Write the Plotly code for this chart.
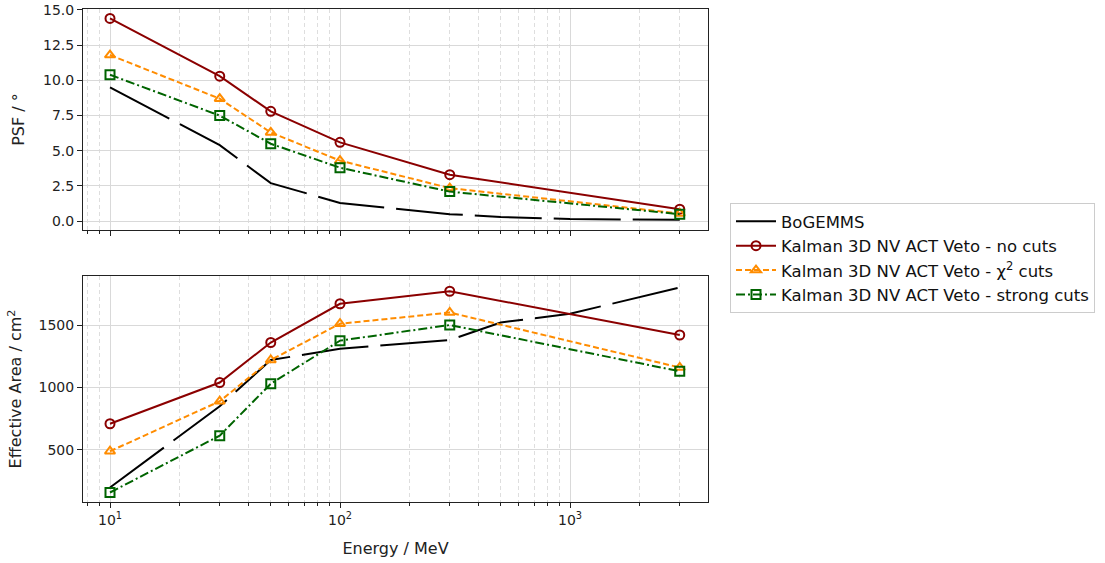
import plotly.graph_objects as go

# ---- data ----
energy_bog = [10, 30, 50, 100, 300, 500, 1000, 3000]
psf_bog = [9.5, 5.4, 2.7, 1.3, 0.5, 0.3, 0.15, 0.1]
aeff_bog = [200, 850, 1220, 1310, 1380, 1520, 1590, 1800]

energy_kal = [10, 30, 50, 100, 300, 3000]
psf_nocut = [14.4, 10.3, 7.8, 5.6, 3.3, 0.85]
psf_chi2 = [11.8, 8.7, 6.3, 4.3, 2.35, 0.55]
psf_strong = [10.4, 7.5, 5.5, 3.8, 2.1, 0.5]
aeff_nocut = [710, 1040, 1360, 1670, 1770, 1420]
aeff_chi2 = [490, 890, 1220, 1510, 1600, 1160]
aeff_strong = [160, 615, 1030, 1375, 1500, 1130]

names = ["BoGEMMS", "Kalman 3D NV ACT Veto - no cuts",
         "Kalman 3D NV ACT Veto - χ<sup>2</sup> cuts",
         "Kalman 3D NV ACT Veto - strong cuts"]
xtick_vals = [10, 100, 1000]
xtick_text = ["10<sup>1</sup>", "10<sup>2</sup>", "10<sup>3</sup>"]
xminor_vals = [8, 9, 20, 30, 40, 50, 60, 70, 80, 90,
               200, 300, 400, 500, 600, 700, 800, 900, 2000, 3000]
psf_ticks = [0, 2.5, 5, 7.5, 10, 12.5, 15]
aeff_ticks = [500, 1000, 1500]

FONT = "DejaVu Sans"
fig = go.Figure()

styles = [
    dict(color="black", dash="67px,12px", symbol=None),
    dict(color="#8B0000", dash="solid", symbol="circle-open"),
    dict(color="#FF8C00", dash="6px,3px", symbol="triangle-up-open"),
    dict(color="#006400", dash="9px,3px,2px,3px", symbol="square-open"),
]

series = [
    (energy_bog, psf_bog, aeff_bog),
    (energy_kal, psf_nocut, aeff_nocut),
    (energy_kal, psf_chi2, aeff_chi2),
    (energy_kal, psf_strong, aeff_strong),
]

for i, ((x, ypsf, yaeff), st, nm) in enumerate(zip(series, styles, names)):
    mode = "lines" if st["symbol"] is None else "lines+markers"
    marker = dict(symbol=st["symbol"], size=9, color=st["color"],
                  line=dict(width=2, color=st["color"])) if st["symbol"] else None
    fig.add_trace(go.Scatter(x=x, y=ypsf, mode=mode, name=nm, legendgroup=nm,
                             line=dict(color=st["color"], width=2, dash=st["dash"]),
                             marker=marker, xaxis="x", yaxis="y"))
    fig.add_trace(go.Scatter(x=x, y=yaeff, mode=mode, name=nm, legendgroup=nm,
                             showlegend=False,
                             line=dict(color=st["color"], width=2, dash=st["dash"]),
                             marker=marker, xaxis="x2", yaxis="y2"))

TICKFONT = dict(family=FONT, size=14, color="#222")
TITLEFONT = dict(family=FONT, size=16, color="#222")

xcommon = dict(type="log", range=[0.8826, 3.6], showline=True, linecolor="#222",
               linewidth=1, mirror=True, ticks="outside", ticklen=5, tickcolor="#222",
               tickmode="array", tickvals=xtick_vals, showgrid=True,
               gridcolor="#d9d9d9", gridwidth=1, zeroline=False,
               minor=dict(tickmode="array", tickvals=xminor_vals, ticks="outside",
                          ticklen=3, tickcolor="#222", showgrid=True,
                          gridcolor="#dedede", griddash="4px,3px", gridwidth=1),
               tickfont=TICKFONT)
ycommon = dict(showline=True, linecolor="#222", linewidth=1, mirror=True,
               ticks="outside", ticklen=5, tickcolor="#222", showgrid=True,
               gridcolor="#d9d9d9", gridwidth=1, zeroline=False,
               tickfont=TICKFONT, ticklabeloverflow="allow")

fig.update_layout(
    width=1105, height=563,
    margin=dict(l=83, r=397, t=9, b=61, autoexpand=False),
    paper_bgcolor="white", plot_bgcolor="white",
    font=dict(family=FONT, color="#222"),
    xaxis=dict(**xcommon, domain=[0, 1], anchor="y", showticklabels=False),
    xaxis2=dict(**xcommon, domain=[0, 1], anchor="y2", ticktext=xtick_text,
                title=dict(text="Energy / MeV", font=TITLEFONT, standoff=16)),
    yaxis=dict(**ycommon, domain=[0.5516, 1], range=[-0.63, 15.07], anchor="x",
               tickmode="array", tickvals=psf_ticks, tickformat=".1f",
               title=dict(text="PSF / °", font=TITLEFONT, standoff=14)),
    yaxis2=dict(**ycommon, domain=[0, 0.4584], range=[84, 1892], anchor="x2",
                tickmode="array", tickvals=aeff_ticks,
                title=dict(text="Effective Area / cm<sup>2</sup>", font=TITLEFONT,
                           standoff=12)),
    legend=dict(x=1.0352, y=0.495, xanchor="left", yanchor="middle",
                bordercolor="#cccccc", borderwidth=1, bgcolor="white",
                font=dict(family=FONT, size=16.5, color="#111"),
                itemwidth=40, tracegroupgap=0),
    showlegend=True,
)

fig.write_html("out.html")
